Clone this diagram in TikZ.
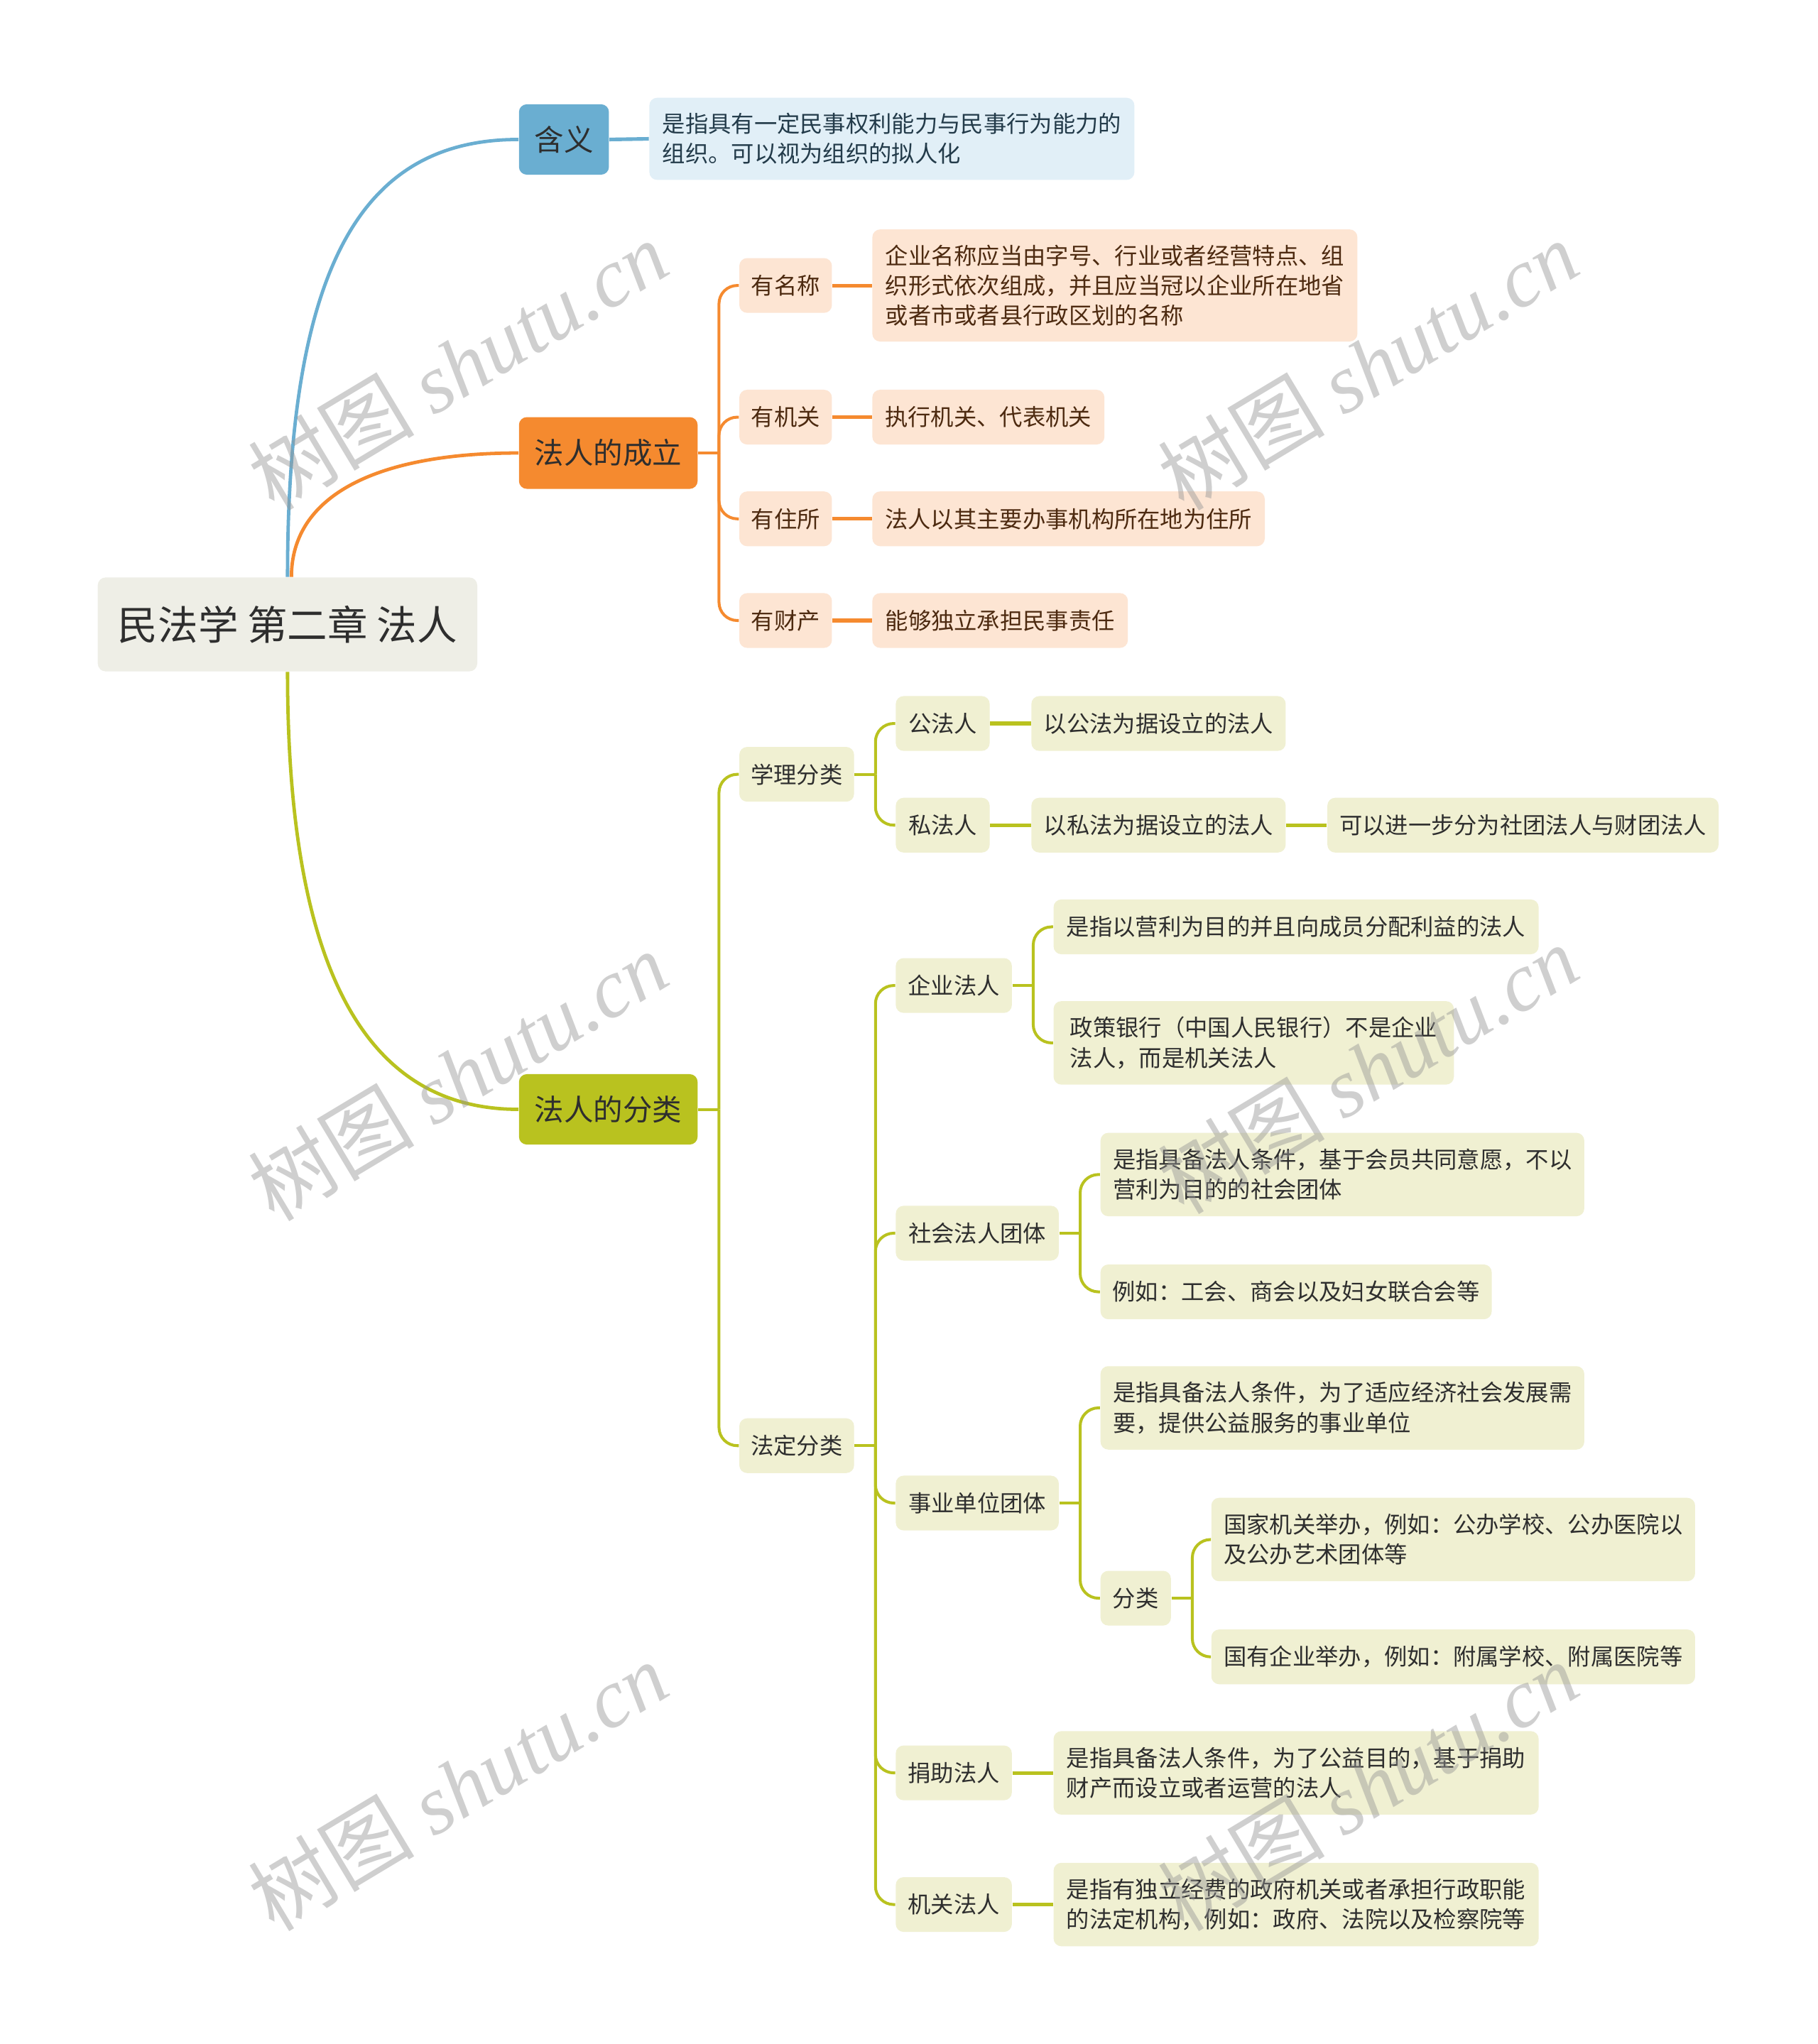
\documentclass[tikz,border=0pt]{standalone}
\usepackage{fontspec}
\setmainfont{Noto Sans CJK SC}
\newfontfamily\wmlatin{Liberation Serif}
\usetikzlibrary{calc}
\definecolor{cblue}{HTML}{6AAED1}
\definecolor{cbluel}{HTML}{E1EFF7}
\definecolor{cbluet}{HTML}{233B4A}
\definecolor{corange}{HTML}{F58A2F}
\definecolor{corangel}{HTML}{FDE5D3}
\definecolor{cbrown}{HTML}{4D2A10}
\definecolor{cgreen}{HTML}{B9C21F}
\definecolor{cgreenl}{HTML}{F0F0D2}
\definecolor{croot}{HTML}{EEEEE6}
\definecolor{ctext}{HTML}{2E2E2E}
\definecolor{wmgray}{HTML}{969696}
\tikzset{
  wh/.style 2 args={minimum width=#1*0.5pt, minimum height=#2*0.5pt},
  anybox/.style={rounded corners=3pt, inner sep=0pt, align=left, anchor=center},
  rootbox/.style={anybox, fill=croot, text=ctext, font=\fontsize{15.4}{18}\selectfont},
  topbox/.style={anybox, text=ctext, font=\fontsize{11.3}{14}\selectfont},
  smallbox/.style={anybox, font=\fontsize{8.8}{11.5}\selectfont},
  bbox/.style={smallbox, fill=cbluel, text=cbluet},
  obox/.style={smallbox, fill=corangel, text=cbrown},
  gbox/.style={smallbox, fill=cgreenl, text=ctext},
  mainline/.style={line width=1.3pt},
  branchline/.style={line width=1.1pt, rounded corners=7pt},
  leafline/.style={line width=1.4pt},
  wm/.style={rotate=31, text=wmgray, opacity=0.45, font=\fontsize{32}{32}\selectfont}
}
\begin{document}
\begin{tikzpicture}[x=0.5pt, y=-0.5pt]
\useasboundingbox (0,0) rectangle (1394,1568);
\fill[white] (0,0) rectangle (1394,1568);

% root and main branches
\node[rootbox, wh={291}{72}] (root) at (220.5,479) {民法学 第二章 法人};
\node[topbox, fill=cblue, wh={69}{54}] (hanyi) at (432.5,107) {含义};
\node[topbox, fill=corange, wh={137}{55}] (chengli) at (466.5,347.5) {法人的成立};
\node[topbox, fill=cgreen, wh={137}{54}] (fenlei) at (466.5,851) {法人的分类};

% 含义
\node[bbox, wh={372}{63}] (hanyid) at (684,106.5) {是指具有一定民事权利能力与民事行为能力的\\组织。可以视为组织的拟人化};

% 法人的成立
\node[obox, wh={71}{42}] (mingcheng) at (602.5,219) {有名称};
\node[obox, wh={71}{42}] (jiguan) at (602.5,320) {有机关};
\node[obox, wh={71}{42}] (zhusuo) at (602.5,398) {有住所};
\node[obox, wh={71}{42}] (caichan) at (602.5,476) {有财产};
\node[obox, wh={372}{86}] (mingchengd) at (855,219) {企业名称应当由字号、行业或者经营特点、组\\织形式依次组成，并且应当冠以企业所在地省\\或者市或者县行政区划的名称};
\node[obox, wh={178}{42}] (jiguand) at (758,320) {执行机关、代表机关};
\node[obox, wh={301}{42}] (zhusuod) at (819.5,398) {法人以其主要办事机构所在地为住所};
\node[obox, wh={196}{42}] (caichand) at (767,476) {能够独立承担民事责任};

% 法人的分类
\node[gbox, wh={88}{42}] (xueli) at (611,594) {学理分类};
\node[gbox, wh={88}{42}] (fading) at (611,1109) {法定分类};
\node[gbox, wh={72}{42}] (gong) at (723,555) {公法人};
\node[gbox, wh={72}{42}] (si) at (723,633) {私法人};
\node[gbox, wh={195}{42}] (gongd) at (888.5,555) {以公法为据设立的法人};
\node[gbox, wh={195}{42}] (sid) at (888.5,633) {以私法为据设立的法人};
\node[gbox, wh={300}{42}] (sidd) at (1168,633) {可以进一步分为社团法人与财团法人};

\node[gbox, wh={89}{42}] (qiye) at (731.5,756) {企业法人};
\node[gbox, wh={125}{42}] (shehui) at (749.5,946) {社会法人团体};
\node[gbox, wh={125}{42}] (shiye) at (749.5,1153) {事业单位团体};
\node[gbox, wh={89}{42}] (juanzhu) at (731.5,1360) {捐助法人};
\node[gbox, wh={89}{42}] (jiguanfr) at (731.5,1461) {机关法人};

\node[gbox, wh={372}{42}] (qiyea) at (994,711) {是指以营利为目的并且向成员分配利益的法人};
\node[gbox, wh={307}{64}] (qiyeb) at (961.5,800) {政策银行（中国人民银行）不是企业\\法人，而是机关法人};
\node[gbox, wh={371}{64}] (shehuia) at (1029.5,901) {是指具备法人条件，基于会员共同意愿，不以\\营利为目的的社会团体};
\node[gbox, wh={300}{42}] (shehuib) at (994,991) {例如：工会、商会以及妇女联合会等};
\node[gbox, wh={371}{64}] (shiyea) at (1029.5,1080) {是指具备法人条件，为了适应经济社会发展需\\要，提供公益服务的事业单位};
\node[gbox, wh={54}{42}] (shiyefl) at (871,1226) {分类};
\node[gbox, wh={371}{64}] (fla) at (1114.5,1181) {国家机关举办，例如：公办学校、公办医院以\\及公办艺术团体等};
\node[gbox, wh={371}{42}] (flb) at (1114.5,1271) {国有企业举办，例如：附属学校、附属医院等};
\node[gbox, wh={372}{64}] (juanzhud) at (994,1360) {是指具备法人条件，为了公益目的，基于捐助\\财产而设立或者运营的法人};
\node[gbox, wh={372}{64}] (jiguanfrd) at (994,1461) {是指有独立经费的政府机关或者承担行政职能\\的法定机构，例如：政府、法院以及检察院等};

% main curves
\draw[mainline, cblue] (root.north) .. controls +(0,-243) and +(-118,0) .. (hanyi.west);
\draw[mainline, corange] ($(root.north)+(3,0)$) .. controls +(0,-63) and +(-108,0) .. (chengli.west);
\draw[mainline, cgreen] (root.south) .. controls +(0,245) and +(-108,0) .. (fenlei.west);

% 含义
\draw[leafline, cblue] (hanyi.east) -- (hanyid.west);

% 法人的成立 branches
\draw[branchline, corange] (chengli.east) -- ++(16,0) coordinate (b1);
\foreach \n in {mingcheng,jiguan,zhusuo,caichan}
  \draw[branchline, corange] (b1) |- (\n.west);
\foreach \n in {mingcheng,jiguan,zhusuo,caichan}
  \draw[leafline, corange] (\n.east) -- (\n d.west);

% 法人的分类 branches
\draw[branchline, cgreen] (fenlei.east) -- ++(16,0) coordinate (b2);
\foreach \n in {xueli,fading}
  \draw[branchline, cgreen] (b2) |- (\n.west);

\draw[branchline, cgreen] (xueli.east) -- ++(16,0) coordinate (b3);
\foreach \n in {gong,si}
  \draw[branchline, cgreen] (b3) |- (\n.west);
\draw[leafline, cgreen] (gong.east) -- (gongd.west);
\draw[leafline, cgreen] (si.east) -- (sid.west);
\draw[leafline, cgreen] (sid.east) -- (sidd.west);

\draw[branchline, cgreen] (fading.east) -- ++(16,0) coordinate (b4);
\foreach \n in {qiye,shehui,shiye,juanzhu,jiguanfr}
  \draw[branchline, cgreen] (b4) |- (\n.west);

\draw[branchline, cgreen] (qiye.east) -- ++(16,0) coordinate (b5);
\foreach \n in {qiyea,qiyeb}
  \draw[branchline, cgreen] (b5) |- (\n.west);

\draw[branchline, cgreen] (shehui.east) -- ++(16,0) coordinate (b6);
\foreach \n in {shehuia,shehuib}
  \draw[branchline, cgreen] (b6) |- (\n.west);

\draw[branchline, cgreen] (shiye.east) -- ++(16,0) coordinate (b7);
\foreach \n in {shiyea,shiyefl}
  \draw[branchline, cgreen] (b7) |- (\n.west);

\draw[branchline, cgreen] (shiyefl.east) -- ++(16,0) coordinate (b8);
\foreach \n in {fla,flb}
  \draw[branchline, cgreen] (b8) |- (\n.west);

\draw[leafline, cgreen] (juanzhu.east) -- (juanzhud.west);
\draw[leafline, cgreen] (jiguanfr.east) -- (jiguanfrd.west);

% watermarks
\node[wm] (wm1) at (351,280) {树图 {\wmlatin\itshape shutu.cn}};
\node[wm] (wm2) at (1049,280) {树图 {\wmlatin\itshape shutu.cn}};
\node[wm] (wm3) at (351,825) {树图 {\wmlatin\itshape shutu.cn}};
\node[wm] (wm4) at (1049,820) {树图 {\wmlatin\itshape shutu.cn}};
\node[wm] (wm5) at (351,1370) {树图 {\wmlatin\itshape shutu.cn}};
\node[wm] (wm6) at (1049,1370) {树图 {\wmlatin\itshape shutu.cn}};
\end{tikzpicture}
\end{document}
